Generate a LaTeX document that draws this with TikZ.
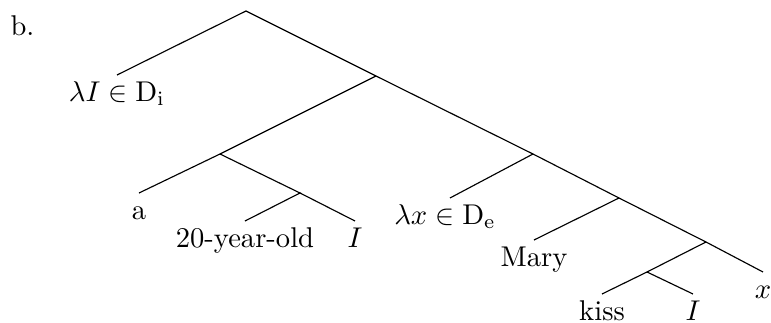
\documentclass[tikz,border=0pt]{standalone}
\usepackage{amsmath,amssymb}
\usepackage{tikz}
\usetikzlibrary{positioning,calc}
\tikzset{leaf/.style={anchor=north, text height=7.5pt, text depth=2pt, inner xsep=0pt, inner ysep=1.6pt}}
\begin{document}
\begin{tikzpicture}[x=0.35pt, y=-0.35pt]
\useasboundingbox (0,0) rectangle (771,323);
\node[anchor=base west, inner sep=0pt] (lab) at (10,35) {b.};
\coordinate (r) at (246,11);
\coordinate (n1) at (376,76);
\coordinate (n2) at (220,154);
\coordinate (n3) at (300,193);
\coordinate (n4) at (533,154);
\coordinate (n5) at (619,198);
\coordinate (n6) at (706,242);
\coordinate (n7) at (647,272);
\coordinate (lxtop) at (450,198);
\node[leaf] (lI) at (117,75) {$\lambda I \in \mathrm{D}_{\mathrm{i}}$};
\node[leaf] (a) at (139,193) {a};
\node[leaf] (yo) at (245,221) {20-year-old};
\node[leaf] (I1) at (355,221) {$I$};
\node[leaf] (lx) at (445,198) {$\lambda x \in \mathrm{D}_{\mathrm{e}}$};
\node[leaf] (mary) at (534,240) {Mary};
\node[leaf] (kiss) at (602,294) {kiss};
\node[leaf] (I2) at (693,294) {$I$};
\node[leaf] (x) at (763,272) {$x$};
\draw (lI.north) -- (r) -- (n1) -- (n4) -- (n5) -- (n6) -- (x.north);
\draw (n1) -- (n2) -- (a.north);
\draw (n2) -- (n3) -- (yo.north);
\draw (n3) -- (I1.north);
\draw (n4) -- (lx.north -| lxtop);
\draw (n5) -- (mary.north);
\draw (n6) -- (n7) -- (kiss.north);
\draw (n7) -- (I2.north);
\end{tikzpicture}
\end{document}
